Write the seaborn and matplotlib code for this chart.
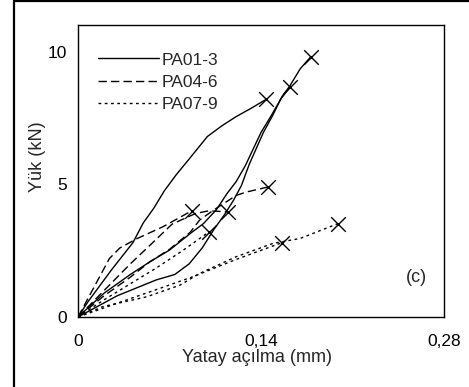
import numpy as np
import pandas as pd
import matplotlib
matplotlib.use("Agg")
import matplotlib.pyplot as plt
from matplotlib.lines import Line2D
import seaborn as sns

# ---- data ----
series_names = ["PA01-3", "PA04-6", "PA07-9"]

# PA01-3 (solid)
pa01_x = [0, 0.008, 0.017, 0.026, 0.034, 0.042, 0.05, 0.058, 0.066, 0.075, 0.085, 0.099, 0.11, 0.121, 0.132, 0.144]
pa01_y = [0, 0.6, 1.2, 1.8, 2.3, 2.8, 3.55, 4.1, 4.75, 5.35, 5.95, 6.8, 7.2, 7.55, 7.85, 8.2]
pa02_x = [0, 0.03, 0.06, 0.074, 0.085, 0.095, 0.104, 0.112, 0.119, 0.125, 0.131, 0.1418, 0.149, 0.156, 0.162, 0.17, 0.178]
pa02_y = [0, 0.8, 1.4, 1.6, 2.0, 2.6, 3.3, 3.85, 4.4, 4.95, 5.75, 6.95, 7.6, 8.3, 8.7, 9.35, 9.8]
pa03_x = [0, 0.02, 0.04, 0.055, 0.07, 0.086, 0.096, 0.106, 0.114, 0.121, 0.128, 0.14, 0.148, 0.155, 0.162]
pa03_y = [0, 0.9, 1.6, 2.08, 2.52, 3.15, 3.52, 4.05, 4.65, 5.1, 5.7, 6.95, 7.6, 8.2, 8.65]

# PA04-6 (dashed)
pa04_x = [0, 0.012, 0.024, 0.032, 0.045, 0.065, 0.087]
pa04_y = [0, 1.1, 2.2, 2.6, 2.95, 3.4, 4.0]
pa05_x = [0, 0.02, 0.04, 0.055, 0.072, 0.09, 0.1, 0.115]
pa05_y = [0, 1.0, 2.0, 2.7, 3.5, 3.9, 4.0, 3.96]
pa06_x = [0, 0.02, 0.04, 0.055, 0.07, 0.086, 0.093, 0.1035, 0.121, 0.129, 0.1456]
pa06_y = [0, 0.8, 1.5, 2.08, 2.55, 3.2, 3.65, 4.02, 4.58, 4.71, 4.9]

# PA07-9 (dotted)
pa07_x = [0, 0.019, 0.0525, 0.078, 0.093, 0.121, 0.149, 0.17, 0.199]
pa07_y = [0, 0.39, 0.76, 1.2, 1.64, 2.27, 2.77, 2.96, 3.52]
pa08_x = [0, 0.037, 0.0627, 0.088, 0.12, 0.156]
pa08_y = [0, 0.64, 1.08, 1.52, 2.15, 2.8]
pa09_x = [0, 0.02, 0.04, 0.06, 0.08, 0.1]
pa09_y = [0, 0.65, 1.25, 1.85, 2.5, 3.2]

x_ticks = [0, 0.14, 0.28]
x_tick_labels = ["0", "0,14", "0,28"]
y_ticks = [0, 5, 10]
y_tick_labels = ["0", "5", "10"]

curves = [
    ("PA01-3", "PA01", pa01_x, pa01_y),
    ("PA01-3", "PA02", pa02_x, pa02_y),
    ("PA01-3", "PA03", pa03_x, pa03_y),
    ("PA04-6", "PA04", pa04_x, pa04_y),
    ("PA04-6", "PA05", pa05_x, pa05_y),
    ("PA04-6", "PA06", pa06_x, pa06_y),
    ("PA07-9", "PA07", pa07_x, pa07_y),
    ("PA07-9", "PA08", pa08_x, pa08_y),
    ("PA07-9", "PA09", pa09_x, pa09_y),
]

rows = []
for ser, cur, xs, ys in curves:
    for i, (xv, yv) in enumerate(zip(xs, ys)):
        rows.append({"x": xv, "y": yv, "series": ser, "curve": cur, "order": i})
df = pd.DataFrame(rows)
ends = df.loc[df.groupby("curve")["order"].idxmax()]

# ---- figure ----
sns.set_style("white")
plt.rcParams["font.family"] = ["Liberation Sans", "DejaVu Sans"]
plt.rcParams["font.size"] = 12.5

fig = plt.figure(figsize=(4.69, 3.87), dpi=100)
ax = fig.add_axes([78 / 469, 70 / 387, 366 / 469, 292 / 387])

LW = 1.0
dash_map = {"PA01-3": "", "PA04-6": (6, 3), "PA07-9": (2, 2.5)}
for ser, cur, xs, ys in curves:
    sub = df[df["curve"] == cur]
    sns.lineplot(data=sub, x="x", y="y", sort=False, estimator=None,
                 color="black", lw=LW, ax=ax, legend=False)
    ln = ax.lines[-1]
    if dash_map[ser]:
        ln.set_dashes(dash_map[ser])

sns.scatterplot(data=ends, x="x", y="y", marker="x", s=110, color="black",
                linewidth=1.0, ax=ax, legend=False, zorder=5)

ax.set_xlim(0, 0.28)
ax.set_ylim(0, 11)
ax.set_xticks(x_ticks)
ax.set_xticklabels(x_tick_labels)
ax.set_yticks(y_ticks)
ax.set_yticklabels(y_tick_labels)
ax.tick_params(axis="both", direction="out", length=5, width=1, color="black",
               labelsize=12.5, labelcolor="black")
ax.tick_params(axis="x", pad=7.5)
ax.tick_params(axis="y", pad=3)
for sp in ax.spines.values():
    sp.set_color("black")
    sp.set_linewidth(1.0)

ax.set_xlabel("Yatay açılma (mm)", fontsize=13)
ax.set_ylabel("Yük (kN)", fontsize=13)
ax.xaxis.set_label_coords(0.49, -0.108)
ax.yaxis.set_label_coords(-0.088, 0.548)

ax.text(0.259, 1.5, "(c)", ha="center", va="center", fontsize=13)

handles = [
    Line2D([], [], color="black", lw=LW, linestyle="-"),
    Line2D([], [], color="black", lw=LW, dashes=(6, 3)),
    Line2D([], [], color="black", lw=LW, dashes=(2, 2.5)),
]
leg = ax.legend(handles, series_names, loc="upper left", frameon=False,
                handlelength=3.55, handletextpad=0.15, labelspacing=0.42,
                fontsize=12.5, bbox_to_anchor=(0.035, 0.93), borderaxespad=0)

# outer figure frame (left and top edges visible)
fig.add_artist(Line2D([14 / 469, 14 / 469], [0, 1 - 1 / 387], transform=fig.transFigure,
                      color="black", lw=1.6))
fig.add_artist(Line2D([14 / 469, 1], [1 - 1 / 387, 1 - 1 / 387], transform=fig.transFigure,
                      color="black", lw=1.6))

fig.savefig("out.png", dpi=100)
